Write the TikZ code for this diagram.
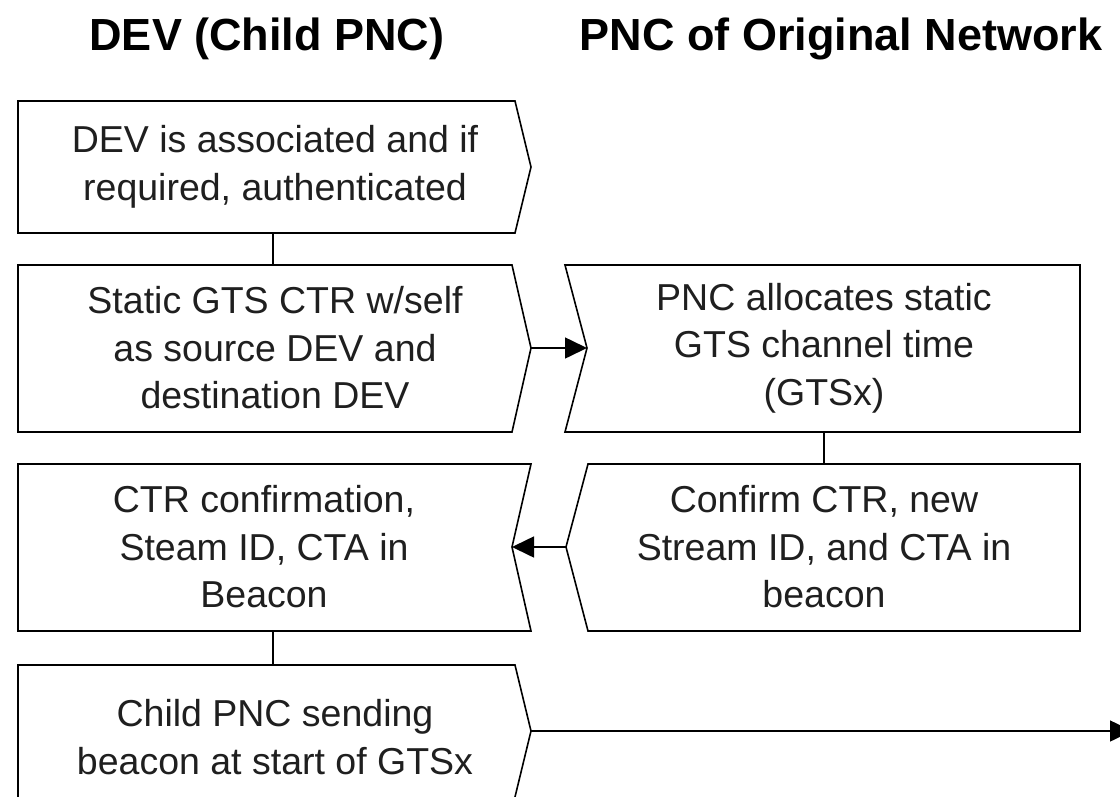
\documentclass[tikz,border=0pt]{standalone}
\usepackage{fontspec}
\setmainfont{Liberation Sans}
\usetikzlibrary{arrows.meta}
\begin{document}
\begin{tikzpicture}[x=1pt,y=-1pt,
  outline/.style={draw=black,line width=1.6pt,line join=miter},
  lbl/.style={font=\fontsize{37.5}{47.5}\selectfont,align=center,inner sep=0pt,text=black!88},
  ttl/.style={font=\fontsize{45}{54}\selectfont\bfseries,inner sep=0pt,anchor=base},
  link/.style={line width=1.6pt},
  arr/.style={line width=1.6pt,-{Triangle[length=22pt,width=21pt]}}]
\clip (0,0) rectangle (1120,796);
\fill[white] (0,0) rectangle (1120,796);
% titles
\node[ttl] (t1) at (267,50) {DEV (Child PNC)};
\node[ttl] (t2) at (841,50) {PNC of Original Network};
% box outlines
\draw[outline] (18,101) -- (515,101) -- (531,167) coordinate (b1tip) -- (515,233) -- (18,233) -- cycle;
\draw[outline] (18,265) -- (512,265) -- (531,348) coordinate (b2tip) -- (512,432) -- (18,432) -- cycle;
\draw[outline] (565,265) -- (1080,265) -- (1080,432) -- (565,432) -- (587,348) coordinate (b3in) -- cycle;
\draw[outline] (588,464) -- (1080,464) -- (1080,631) -- (588,631) -- (566,547) coordinate (b4out) -- cycle;
\draw[outline] (18,464) -- (531,464) -- (512,547) coordinate (b5in) -- (531,631) -- (18,631) -- cycle;
\draw[outline] (18,665) -- (515,665) -- (531,731) coordinate (b6tip) -- (514.5,799) -- (18,799) -- cycle;
% connector end points
\coordinate (b1s) at (273,233);
\coordinate (b2n) at (273,265);
\coordinate (b3s) at (824,432);
\coordinate (b4n) at (824,464);
\coordinate (b5s) at (273,631);
\coordinate (b6n) at (273,665);
\coordinate (edge) at (1132,731);
% texts
\node[lbl] (b1) at (275,167) {DEV is associated and if\\required, authenticated};
\node[lbl] (b2) at (275,348) {Static GTS CTR w/self\\as source DEV and\\destination DEV};
\node[lbl] (b3) at (824,348) {PNC allocates static\\GTS channel time\\(GTSx)};
\node[lbl] (b4) at (824,547) {Confirm CTR, new\\Stream ID, and CTA in\\beacon};
\node[lbl] (b5) at (264,547) {CTR confirmation,\\Steam ID, CTA in\\Beacon};
\node[lbl] (b6) at (275,737) {Child PNC sending\\beacon at start of GTSx};
% connectors
\draw[link] (b1s) -- (b2n);
\draw[link] (b3s) -- (b4n);
\draw[link] (b5s) -- (b6n);
\draw[arr] (b2tip) -- (b3in);
\draw[arr] (b4out) -- (b5in);
\draw[arr] (b6tip) -- (edge);
\end{tikzpicture}
\end{document}
